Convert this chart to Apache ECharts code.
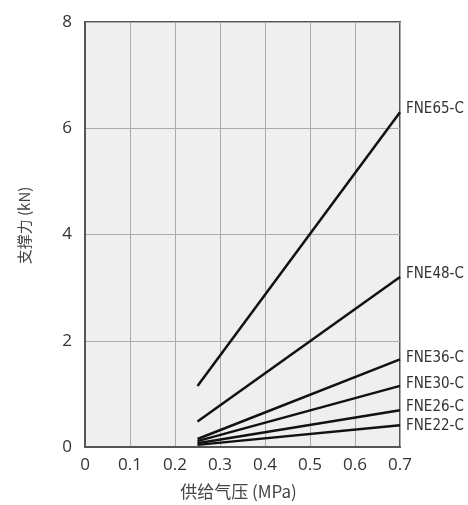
<!DOCTYPE html>
<html><head><meta charset="utf-8">
<script src="https://cdn.jsdelivr.net/npm/echarts@6/dist/echarts.min.js"></script>
<style>html,body{margin:0;padding:0;background:#fff}#c{width:468px;height:505px}</style>
</head><body><div id="c"></div>
<script>
const xTicks = [0, 0.1, 0.2, 0.3, 0.4, 0.5, 0.6, 0.7];
const yTicks = [0, 2, 4, 6, 8];
const pressure = [0.25, 0.7];
const seriesNames = ['FNE65-C', 'FNE48-C', 'FNE36-C', 'FNE30-C', 'FNE26-C', 'FNE22-C'];
const fne65 = [1.15, 6.3];
const fne48 = [0.48, 3.2];
const fne36 = [0.15, 1.65];
const fne30 = [0.11, 1.15];
const fne26 = [0.07, 0.69];
const fne22 = [0.04, 0.41];
const allValues = [fne65, fne48, fne36, fne30, fne26, fne22];
const labelOffsets = [-3, -3, -1, -2, -3, 1];

const chart = echarts.init(document.getElementById('c'));
chart.setOption({
  animation: false,
  grid: {left: 85, right: 68, top: 22, bottom: 58, show: true, backgroundColor: '#efefef', borderColor: '#555', borderWidth: 2, z: 0,
    outerBoundsMode: 'none', containLabel: false},
  xAxis: {
    type: 'value', min: 0, max: 0.7, interval: 0.1,
    name: '供给气压 (MPa)', nameLocation: 'middle', nameGap: 36,
    nameTextStyle: {fontSize: 17, color: '#444', fontFamily: 'Noto Sans CJK SC', padding: [0, 8, 0, 0]},
    axisLine: {show: true, lineStyle: {color: '#555', width: 2}},
    axisTick: {show: false},
    axisLabel: {fontSize: 17, color: '#333', margin: 10, fontFamily: 'Open Sans',
      formatter: v => xTicks.find(t => Math.abs(t - v) < 1e-6).toString()},
    splitLine: {show: true, lineStyle: {color: '#aaa', width: 1}}
  },
  yAxis: {
    type: 'value', min: 0, max: 8, interval: 2,
    name: '支撑力 (kN)', nameLocation: 'middle', nameGap: 53,
    nameTextStyle: {fontSize: 15, color: '#444', fontFamily: 'Noto Sans CJK SC', padding: [0, 0, 0, 18]},
    axisLine: {show: true, lineStyle: {color: '#555', width: 2}},
    axisTick: {show: false},
    axisLabel: {fontSize: 17, color: '#333', margin: 13, fontFamily: 'Open Sans',
      formatter: v => yTicks.includes(v) ? String(v) : ''},
    splitLine: {show: true, lineStyle: {color: '#aaa', width: 1}}
  },
  series: seriesNames.map((n, i) => ({
    name: n, type: 'line', symbol: 'none',
    data: pressure.map((p, j) => [p, allValues[i][j]]),
    lineStyle: {color: '#111', width: 2.5},
    endLabel: {show: true, formatter: n, color: '#333', fontSize: 15, distance: 6,
      offset: [0, labelOffsets[i]],
      fontFamily: 'DejaVu Sans Condensed, Liberation Sans Narrow, Liberation Sans'},
    labelLayout: {moveOverlap: 'shiftY'},
    z: 3
  }))
});
</script></body></html>
